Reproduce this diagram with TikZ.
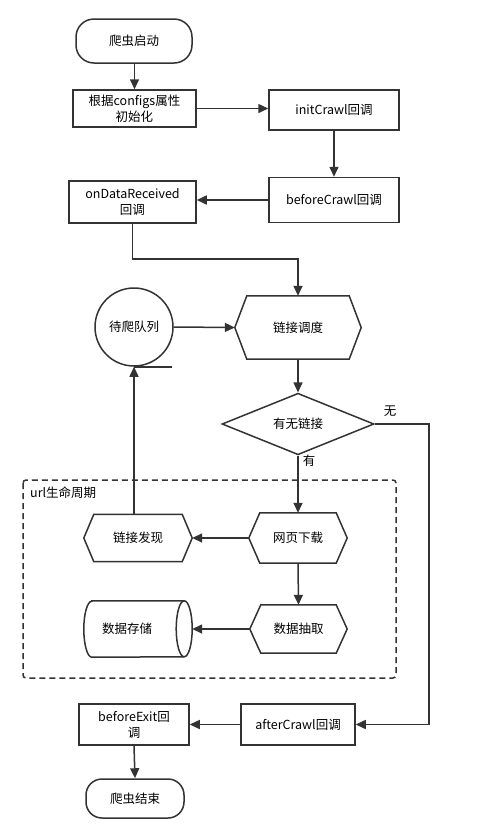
\documentclass[tikz,border=0pt]{standalone}
\usepackage{fontspec}
\setmainfont{Noto Sans CJK SC}
\usetikzlibrary{arrows.meta,shapes.geometric}
\definecolor{ln}{HTML}{333333}
\tikzset{
  base/.style={font=\fontsize{12.5}{16}\selectfont, text=black, inner sep=0pt, align=center},
  shp/.style={draw=ln, line width=1.5pt},
  boxn/.style={base, shp, rectangle},
  term/.style={base, shp, rectangle, rounded corners=18pt},
  plain/.style={base, rectangle},
  link/.style={draw=ln, line width=1.5pt},
  arr/.style={link, -{Triangle[length=10pt,width=9pt]}},
}
\begin{document}
\begin{tikzpicture}[x=1pt,y=-1pt]
\useasboundingbox (0,0) rectangle (492,839);
% top part
\node[term, minimum width=116pt, minimum height=44pt] (st) at (134,41) {爬虫启动};
\node[boxn, minimum width=123pt, minimum height=37pt] (cf) at (134.5,108.5) {根据configs属性\\初始化};
\node[boxn, minimum width=130pt, minimum height=40pt] (ic) at (334,110) {initCrawl回调};
\node[boxn, minimum width=130pt, minimum height=45pt] (bc) at (334,200) {beforeCrawl回调};
\node[boxn, minimum width=127pt, minimum height=42pt] (od) at (132.5,202) {onDataReceived\\回调};
% scheduler hexagon
\node[plain, minimum width=126pt, minimum height=63pt] (hx) at (298,327.5) {链接调度};
\draw[shp] ([xshift=12pt]hx.north west) -- ([xshift=-12pt]hx.north east) -- (hx.east) -- ([xshift=-12pt]hx.south east) -- ([xshift=12pt]hx.south west) -- (hx.west) -- cycle;
% queue
\node[base, shp, circle, minimum size=78pt] (q) at (134,327) {待爬队列};
\draw[shp] (q.south) -- ++(38,0);
% decision
\node[base, shp, diamond, minimum width=152pt, minimum height=54pt] (dm) at (298,424) {有无链接};
\node[plain] (lw) at (390,411) {无};
\node[plain] (ly) at (309,461) {有};
% url life cycle frame
\draw[shp, dashed, dash pattern=on 6pt off 4pt, rounded corners=3pt] (23,480) rectangle (396,678);
\node[plain, anchor=west] (ul) at (30,493) {url生命周期};
% download hexagon
\node[plain, minimum width=98pt, minimum height=50pt] (dl) at (298,538) {网页下载};
\draw[shp] ([xshift=11pt]dl.north west) -- ([xshift=-11pt]dl.north east) -- (dl.east) -- ([xshift=-11pt]dl.south east) -- ([xshift=11pt]dl.south west) -- (dl.west) -- cycle;
% discover hexagon
\node[plain, minimum width=108pt, minimum height=47pt] (lf) at (138,538) {链接发现};
\draw[shp] ([xshift=10pt]lf.north west) -- ([xshift=-10pt]lf.north east) -- (lf.east) -- ([xshift=-10pt]lf.south east) -- ([xshift=10pt]lf.south west) -- (lf.west) -- cycle;
% extract hexagon
\node[plain, minimum width=97pt, minimum height=48pt] (ex) at (298.5,629) {数据抽取};
\draw[shp] ([xshift=11pt]ex.north west) -- ([xshift=-11pt]ex.north east) -- (ex.east) -- ([xshift=-11pt]ex.south east) -- ([xshift=11pt]ex.south west) -- (ex.west) -- cycle;
% storage cylinder
\node[plain, minimum width=108pt, minimum height=56pt] (sg) at (138,629) {};
\node[plain] (sgt) at (127,629) {数据存储};
\draw[shp] ([xshift=8pt]sg.north west) -- ([xshift=-8pt]sg.north east)
  arc[start angle=90, end angle=-90, x radius=8pt, y radius=28pt]
  -- ([xshift=8pt]sg.south west)
  arc[start angle=270, end angle=90, x radius=8pt, y radius=28pt] -- cycle;
\draw[shp] ([xshift=-8pt]sg.north east) arc[start angle=90, end angle=270, x radius=8pt, y radius=28pt];
% bottom part
\node[boxn, minimum width=114pt, minimum height=41pt] (ac) at (298,724.5) {afterCrawl回调};
\node[boxn, minimum width=110pt, minimum height=41pt] (be) at (134,724.5) {beforeExit回\\调};
\node[term, minimum width=98pt, minimum height=39pt, rounded corners=16pt] (en) at (135,798.5) {爬虫结束};
% connectors
\coordinate (rc) at (429,424);
\draw[arr] (st.south -| cf.north) -- (cf.north);
\draw[arr] (cf.east) -- (cf.east -| ic.west);
\draw[arr] (ic.south) -- (ic.south |- bc.north);
\draw[arr] (bc.west) -- (bc.west -| od.east);
\draw[arr] (od.south) -- ++(0,35) -| (hx.north);
\draw[arr] (q.east) -- (hx.west);
\draw[arr] (hx.south) -- (dm.north);
\draw[arr] (dm.south) -- (dl.north);
\draw[arr] (dl.west) -- (lf.east);
\draw[arr] (q.south |- lf.north) -- (q.south);
\draw[arr] (dl.south) -- (ex.north);
\draw[arr] (ex.west) -- (sg.east);
\draw[arr] (dm.east) -- (rc) |- (ac.east);
\draw[arr] (ac.west) -- (be.east);
\draw[arr] (be.south) -- (en.north);
\end{tikzpicture}
\end{document}
